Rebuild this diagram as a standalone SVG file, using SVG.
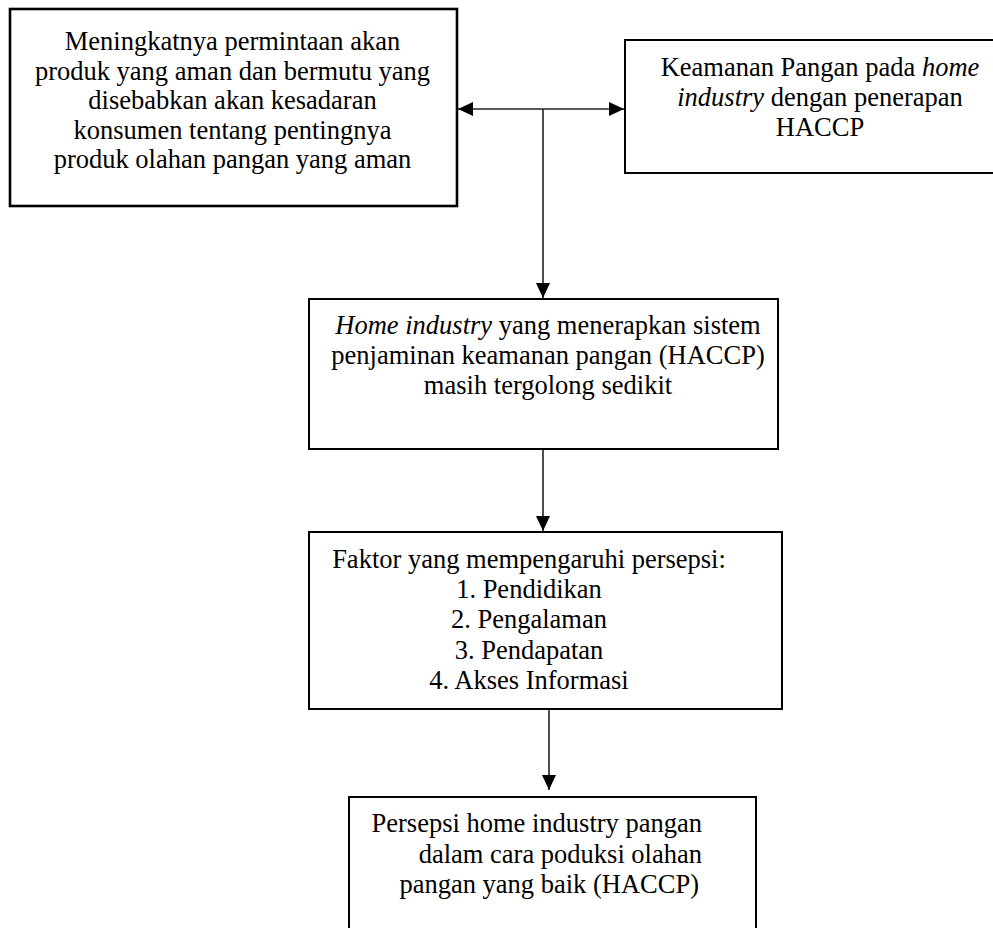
<svg xmlns="http://www.w3.org/2000/svg" width="993" height="928" viewBox="0 0 993 928">
  <style>
    .box { fill: #fff; stroke: #000; stroke-width: 2; }
    .thick { stroke-width: 2.6; }
    text { font-family: "Liberation Serif", "Times New Roman", serif; font-size: 26.5px; fill: #000; }
    .c { text-anchor: middle; }
    .e { text-anchor: end; }
    .i { font-style: italic; }
    .conn { stroke: #222; stroke-width: 1.6; fill: none; }
  </style>
  <defs>
    <marker id="arr" markerUnits="userSpaceOnUse" markerWidth="15" markerHeight="14" refX="15" refY="7" orient="auto-start-reverse">
      <path d="M0,0 L15,7 L0,14 Z" fill="#000"/>
    </marker>
  </defs>
  <rect width="993" height="928" fill="#fff"/>

  <g id="connectors">
    <line class="conn" x1="458" y1="109" x2="624" y2="109" marker-start="url(#arr)" marker-end="url(#arr)"/>
    <line class="conn" x1="543" y1="109" x2="543" y2="298" marker-end="url(#arr)"/>
    <line class="conn" x1="543" y1="449" x2="543" y2="531" marker-end="url(#arr)"/>
    <line class="conn" x1="549" y1="709" x2="549" y2="790" marker-end="url(#arr)"/>
  </g>

  <g id="node-permintaan">
    <rect class="box thick" x="10" y="9" width="447" height="197"/>
    <text class="c" x="232.5" y="50">Meningkatnya permintaan akan</text>
    <text class="c" x="232.5" y="80">produk yang aman dan bermutu yang</text>
    <text class="c" x="232.5" y="109">disebabkan akan kesadaran</text>
    <text class="c" x="232.5" y="139">konsumen tentang pentingnya</text>
    <text class="c" x="232.5" y="168">produk olahan pangan yang aman</text>
  </g>

  <g id="node-keamanan">
    <rect class="box" x="625" y="40" width="380" height="133"/>
    <text class="c" x="820" y="76">Keamanan Pangan pada <tspan class="i">home</tspan></text>
    <text class="c" x="820" y="106"><tspan class="i">industry</tspan> dengan penerapan</text>
    <text class="c" x="820" y="136">HACCP</text>
  </g>

  <g id="node-home-industry">
    <rect class="box" x="309" y="299" width="469" height="150"/>
    <text class="c" x="548" y="334"><tspan class="i">Home industry</tspan> yang menerapkan sistem</text>
    <text class="c" x="548" y="364">penjaminan keamanan pangan (HACCP)</text>
    <text class="c" x="548" y="394">masih tergolong sedikit</text>
  </g>

  <g id="node-faktor">
    <rect class="box" x="309" y="532" width="473" height="177"/>
    <text class="c" x="529" y="568">Faktor yang mempengaruhi persepsi:</text>
    <text class="c" x="529" y="598">1. Pendidikan</text>
    <text class="c" x="529" y="628">2. Pengalaman</text>
    <text class="c" x="529" y="659">3. Pendapatan</text>
    <text class="c" x="529" y="689">4. Akses Informasi</text>
  </g>

  <g id="node-persepsi">
    <rect class="box" x="349" y="797" width="407" height="150"/>
    <text class="e" x="702" y="832">Persepsi home industry pangan</text>
    <text class="e" x="702" y="863">dalam cara poduksi olahan</text>
    <text class="e" x="699" y="893">pangan yang baik (HACCP)</text>
  </g>
</svg>
